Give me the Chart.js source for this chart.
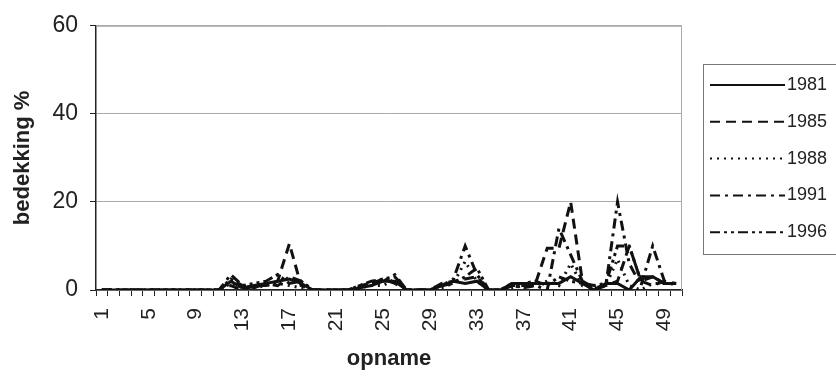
<!DOCTYPE html>
<html>
<head>
<meta charset="utf-8">
<script src="https://cdn.jsdelivr.net/npm/chart.js@4.4.1/dist/chart.umd.min.js"></script>
<style>
  html, body { margin: 0; padding: 0; background: #fff; }
</style>
</head>
<body>
<canvas id="chart" width="836" height="376"></canvas>
<script>
  const opnames = ['1','2','3','4','5','6','7','8','9','10','11','12','13','14','15','16','17','18','19','20',
    '21','22','23','24','25','26','27','28','29','30','31','32','33','34','35','36','37','38','39','40',
    '41','42','43','44','45','46','47','48','49','50'];
  const years = ['1981', '1985', '1988', '1991', '1996'];

  const y1981 = [0,0,0,0,0,0,0,0,0,0, 0,2,0.5,1,1.5,2,2.5,1.5,0, 0,0, 0,0.5,1,2,2,0, 0,
    0,1,2,1.5,2,0, 0,1.5,1.5,1.5,1.5,1.5,3,1.5,0,1.5,1.5,0,3,3,1.5,1.5];
  const y1985 = [0,0,0,0,0,0,0,0,0,0, 0,1,0,1,1,2,10.5,1,0, 0,0, 0,1,1.5,2.5,1.5,0, 0,
    0,1.5,2,2.5,3,0, 0,1,1,1.5,9.5,9.5,20,2,0.5,1,2,10,2,1,2,1.5];
  const y1988 = [0,0,0,0,0,0,0,0,0,0, 0,1.5,0.5,0.5,1,1.5,1,0.5,0, 0,0, 0,0.5,1,1,2.5,0, 0,
    0,0.5,1.5,6.5,2,0, 0,0.5,1,1,2,1,6,1,0.5,1,7,1,0,1.5,1.5,1.5];
  const y1991 = [0,0,0,0,0,0,0,0,0,0, 0,3.5,1,0.5,1.5,1,3,2,0, 0,0, 0,0.5,1.5,2,3.5,0, 0,
    0,1,2.5,10,3.5,0, 0,1,0.5,1,0,14,8,2,0,1,20,6,1,10,2,1];
  const y1996 = [0,0,0,0,0,0,0,0,0,0, 0,2.5,1,1.5,2,3.5,1.5,2,0, 0,0, 0,1,2,2.5,3,0, 0,
    0,1,1.5,3,5,0, 0,1.5,1.5,2,1,3,2,1.5,1,1.5,10,10,2,3,1.5,1.5];

  const series = [y1981, y1985, y1988, y1991, y1996];
  const dashes = [[], [10, 6], [2, 5], [10, 5, 3, 5], [10, 4, 3, 4, 3, 4]];

  Chart.defaults.font.family = "'Liberation Sans', Arial, sans-serif";
  Chart.defaults.color = '#222';

  // grey frame on top/right of plot area, like the Excel plot border
  const plotFrame = {
    id: 'plotFrame',
    beforeDatasetsDraw(chart) {
      const { ctx, chartArea: a } = chart;
      ctx.save();
      ctx.strokeStyle = '#aaa';
      ctx.lineWidth = 1;
      ctx.beginPath();
      ctx.moveTo(a.left, a.top + 0.5);
      ctx.lineTo(a.right - 0.5, a.top + 0.5);
      ctx.lineTo(a.right - 0.5, a.bottom);
      ctx.stroke();
      ctx.restore();
    }
  };

  const legendBox = {
    id: 'legendBox',
    afterDraw(chart) {
      const ctx = chart.ctx;
      ctx.save();
      ctx.strokeStyle = '#777';
      ctx.lineWidth = 1;
      ctx.strokeRect(703.5, 64.5, 160, 190);
      chart.data.datasets.forEach((ds, k) => {
        const y = 85 + k * 36.8;
        ctx.setLineDash(ds.borderDash);
        ctx.lineWidth = 2;
        ctx.strokeStyle = '#111';
        ctx.beginPath();
        ctx.moveTo(710, y);
        ctx.lineTo(785, y);
        ctx.stroke();
        ctx.setLineDash([]);
        ctx.fillStyle = '#222';
        ctx.font = "18px 'Liberation Sans', Arial, sans-serif";
        ctx.textBaseline = 'middle';
        ctx.fillText(ds.label, 787, y);
      });
      ctx.restore();
    }
  };

  new Chart(document.getElementById('chart'), {
    type: 'line',
    data: {
      labels: opnames,
      datasets: years.map((yr, k) => ({
        label: yr,
        data: series[k],
        borderColor: '#111',
        borderWidth: 3,
        borderDash: dashes[k],
        pointRadius: 0,
        tension: 0,
        fill: false
      }))
    },
    options: {
      responsive: false,
      animation: false,
      layout: { padding: { top: 24, right: 154, left: 0, bottom: 0 } },
      plugins: { legend: { display: false }, tooltip: { enabled: false } },
      scales: {
        x: {
          offset: true,
          grid: { offset: true, drawOnChartArea: false, tickLength: 6, color: '#222' },
          border: { color: '#222', width: 1.5 },
          ticks: {
            autoSkip: false, maxRotation: 90, minRotation: 90, padding: 12,
            font: { size: 21 }, color: '#222',
            callback(v, i) { return i % 4 === 0 ? this.getLabelForValue(v) : ''; }
          },
          title: { display: true, text: 'opname', font: { size: 22, weight: 'bold' }, color: '#222', padding: { top: 2, bottom: 4 } },
          afterFit(s) { s.height = 86; }
        },
        y: {
          min: 0, max: 60,
          ticks: { stepSize: 20, font: { size: 23 }, color: '#222', padding: 12 },
          grid: { color: '#aaa', tickColor: '#222', tickLength: 6 },
          border: { color: '#222', width: 1.5 },
          title: { display: true, text: 'bedekking %', font: { size: 22, weight: 'bold' }, color: '#222', padding: { top: 10, bottom: 0 } },
          afterFit(s) { s.width = 96; }
        }
      }
    },
    plugins: [plotFrame, legendBox]
  });
</script>
</body>
</html>
